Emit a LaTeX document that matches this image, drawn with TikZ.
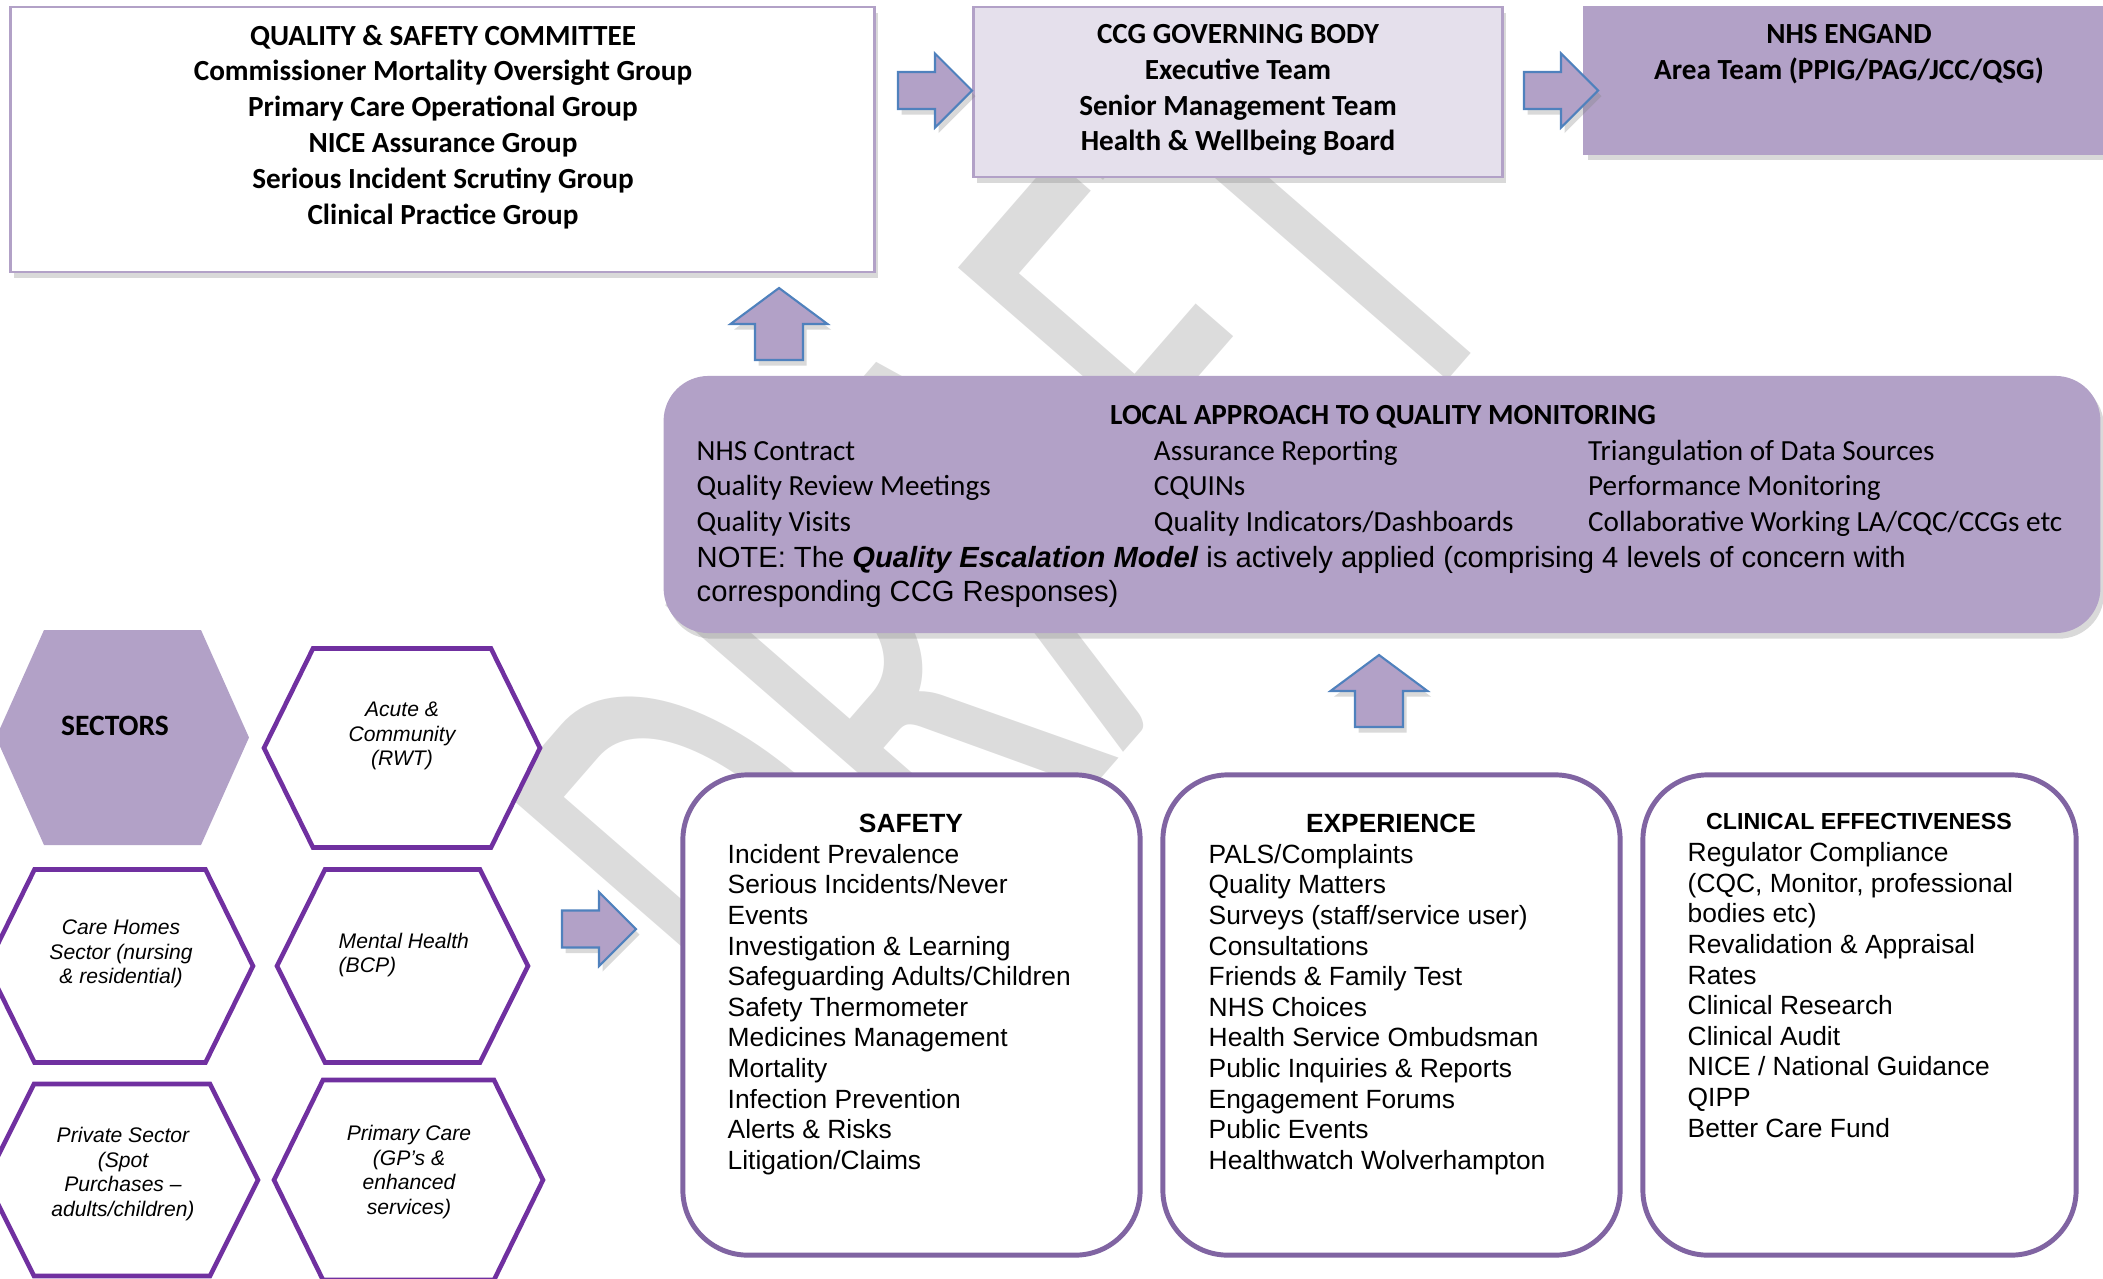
\documentclass[tikz,border=0pt]{standalone}
\usepackage{fontspec}
\setmainfont{Liberation Sans}
\newfontfamily\calibri{Carlito}
\usetikzlibrary{shadows}
\definecolor{lilac}{HTML}{B2A1C7}
\definecolor{palelilac}{HTML}{E5E0EC}
\definecolor{hexpurple}{HTML}{7030A0}
\definecolor{framepurple}{HTML}{8064A2}
\definecolor{arrowblue}{HTML}{4F81BD}
\definecolor{wmgray}{HTML}{DCDCDC}

\begin{document}
\begin{tikzpicture}[
  x=0.01cm, y=-0.01cm,
  every node/.style={align=center, inner sep=0pt},
  softshadow/.style={drop shadow={opacity=0.3, shadow xshift=1pt, shadow yshift=-1.6pt}},
  topbox/.style={draw=lilac, line width=0.8pt, softshadow},
  lowbox/.style={draw=framepurple, fill=white, line width=1.4pt, rounded corners=0.65cm},
  hexline/.style={draw=hexpurple, fill=white, line width=1.3pt},
  blockarrow/.style={draw=arrowblue, fill=lilac, line width=0.6pt, softshadow},
  headtext/.style={font=\calibri\bfseries\fontsize{8.3}{10.2}\selectfont},
  loctext/.style={font=\calibri\fontsize{8.3}{10.1}\selectfont},
  notetext/.style={font=\fontsize{8.3}{9.7}\selectfont, align=left},
  listhead/.style={font=\bfseries\fontsize{7.5}{8.7}\selectfont},
  listtext/.style={font=\fontsize{7.5}{8.7}\selectfont, align=left},
  hextext/.style={font=\itshape\fontsize{6}{7}\selectfont},
  watermark/.style={font=\calibri\fontsize{196}{196}\selectfont, text=wmgray}]

\useasboundingbox (0,0) rectangle (2103,1278);

% Watermark behind everything
\node[watermark, rotate=49, xscale=0.58, anchor=base west] (draftmark) at (819,1103) {DRAFT};

% Governance boxes along the top
\node[topbox, fill=white, minimum width=8.63cm, minimum height=2.65cm] (committee) at (442.5,139.5) {};
\node[topbox, fill=palelilac, minimum width=5.28cm, minimum height=1.70cm] (ccg) at (1238,92) {};
\node[topbox, fill=lilac, minimum width=5.25cm, minimum height=1.47cm] (nhs) at (1847.5,80.5) {};

\node[headtext] (committeetext) at (443,127) {QUALITY \& SAFETY COMMITTEE\\Commissioner Mortality Oversight Group\\Primary Care Operational Group\\NICE Assurance Group\\Serious Incident Scrutiny Group\\Clinical Practice Group};
\node[headtext] (ccgtext) at (1238,90) {CCG GOVERNING BODY\\Executive Team\\Senior Management Team\\Health \& Wellbeing Board};
\node[headtext] (nhstext) at (1849,54) {NHS ENGAND\\Area Team (PPIG/PAG/JCC/QSG)};

% Local monitoring box
\node[fill=lilac, rounded corners=0.45cm, softshadow, minimum width=14.36cm, minimum height=2.57cm] (localbox) at (1382,504.5) {};
\node[headtext] (lochead) at (1383,417) {LOCAL APPROACH TO QUALITY MONITORING};
\node[loctext, anchor=west] (locitems) at (696,488.5) {\begin{tabular}{@{}p{4.57cm}@{}p{4.34cm}@{}l@{}}
  NHS Contract & Assurance Reporting & Triangulation of Data Sources\\
  Quality Review Meetings & CQUINs & Performance Monitoring\\
  Quality Visits & Quality Indicators/Dashboards & Collaborative Working LA/CQC/CCGs etc
\end{tabular}};
\node[notetext, anchor=west] (locnote) at (696,577) {NOTE: The \textbf{\textit{Quality Escalation Model}} is actively applied (comprising 4 levels of concern with\\corresponding CCG Responses)};

% Block arrows between the levels
\foreach \tx/\ty in {898/90.5, 1524/90.5, 562/929}
  \draw[blockarrow] (\tx,\ty-18.5) -- ++(37,0) -- ++(0,-18.5) -- ++(37,37) -- ++(-37,37) -- ++(0,-18.5) -- ++(-37,0) -- cycle;
\foreach \bx/\by in {779/360, 1379/727}
  \draw[blockarrow] (\bx-24,\by) -- ++(0,-36) -- ++(-24.5,0) -- ++(48.5,-36) -- ++(48.5,36) -- ++(-24.5,0) -- ++(0,36) -- cycle;

% Sector hexagons
\fill[lilac] (-4,737.5) -- (44,630) -- (201,630) -- (249,737.5) -- (201,845) -- (44,845) -- cycle;
\foreach \cx/\cy/\hw/\tw/\hh in {402/748/138/89/99.5, 120/966/133/85.5/96.5, 402.5/966/125.5/77.5/96.5, 122/1180/136/88/96, 408.5/1180/134.5/85.5/100}
  \draw[hexline] (\cx-\hw,\cy) -- (\cx-\tw,\cy-\hh) -- (\cx+\tw,\cy-\hh) -- (\cx+\hw,\cy) -- (\cx+\tw,\cy+\hh) -- (\cx-\tw,\cy+\hh) -- cycle;

\node[font=\calibri\bfseries\fontsize{8.4}{10}\selectfont] (sectors) at (115,726) {SECTORS};
\node[hextext] (acute) at (402,736) {Acute \&\\Community\\(RWT)};
\node[hextext] (carehomes) at (121,954) {Care Homes\\Sector (nursing\\\& residential)};
\node[hextext, align=left, anchor=west] (mental) at (338,955) {Mental Health\\(BCP)};
\node[hextext] (private) at (123,1174) {Private Sector\\(Spot\\Purchases –\\adults/children)};
\node[hextext] (primary) at (409,1172) {Primary Care\\(GP’s \&\\enhanced\\services)};

% Quality domains
\node[lowbox, minimum width=4.57cm, minimum height=4.80cm] (safety) at (911.5,1015) {};
\node[lowbox, minimum width=4.57cm, minimum height=4.80cm] (experience) at (1391.5,1015) {};
\node[lowbox, minimum width=4.33cm, minimum height=4.80cm] (clinical) at (1859.5,1015) {};

\node[listhead] (safetyhead) at (911,823) {SAFETY};
\node[listtext, anchor=west] (safetylist) at (727,1009.5) {Incident Prevalence\\Serious Incidents/Never\\Events\\Investigation \& Learning\\Safeguarding Adults/Children\\Safety Thermometer\\Medicines Management\\Mortality\\Infection Prevention\\Alerts \& Risks\\Litigation/Claims};
\node[listhead] (experiencehead) at (1391,823) {EXPERIENCE};
\node[listtext, anchor=west] (experiencelist) at (1208,1009.5) {PALS/Complaints\\Quality Matters\\Surveys (staff/service user)\\Consultations\\Friends \& Family Test\\NHS Choices\\Health Service Ombudsman\\Public Inquiries \& Reports\\Engagement Forums\\Public Events\\Healthwatch Wolverhampton};
\node[listhead, font=\bfseries\fontsize{6.6}{8}\selectfont] (clinicalhead) at (1859,821) {CLINICAL EFFECTIVENESS};
\node[listtext, anchor=west] (clinicallist) at (1687,990) {Regulator Compliance\\(CQC, Monitor, professional\\bodies etc)\\Revalidation \& Appraisal\\Rates\\Clinical Research\\Clinical Audit\\NICE / National Guidance\\QIPP\\Better Care Fund};

\end{tikzpicture}
\end{document}
